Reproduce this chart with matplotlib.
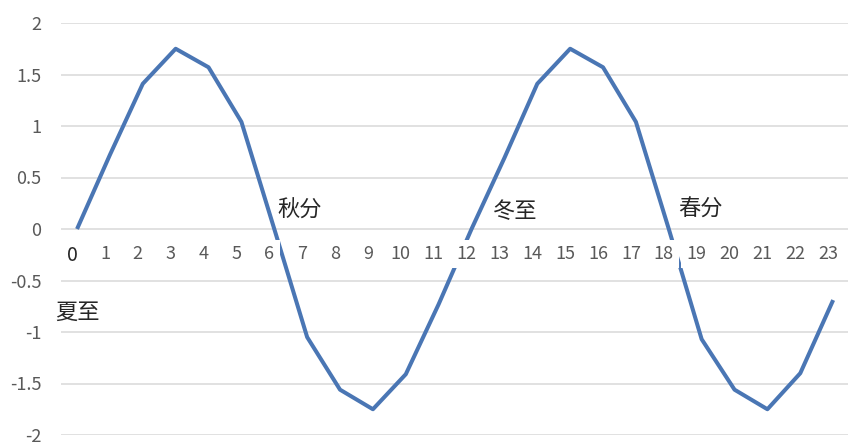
import matplotlib
matplotlib.use("Agg")
import matplotlib.pyplot as plt
import matplotlib.transforms as mtransforms

plt.rcParams['font.family'] = ['Noto Sans CJK SC', 'DejaVu Sans']
plt.rcParams['axes.unicode_minus'] = False

# 24 categories (0..23) and the plotted series
categories = list(range(24))
tick_labels = [str(c) for c in categories]
values = [0, 0.72, 1.41, 1.75, 1.57, 1.04, 0, -1.05, -1.56, -1.75, -1.41, -0.73,
          0, 0.69, 1.41, 1.75, 1.57, 1.04, 0, -1.07, -1.56, -1.75, -1.40, -0.69]

y_ticks = [2, 1.5, 1, 0.5, 0, -0.5, -1, -1.5, -2]
y_tick_labels = ['2', '1.5', '1', '0.5', '0', '-0.5', '-1', '-1.5', '-2']

# solar-term annotations: (text, category position, value)
term_names = ['夏至', '秋分', '冬至', '春分']
term_x = [0.0, 6.78, 13.33, 18.95]
term_y = [-0.81, 0.18, 0.17, 0.19]

W, H = 848, 445
fig = plt.figure(figsize=(W / 100, H / 100), dpi=100)
ax = fig.add_axes([60.6 / W, 10 / H, 789 / W, 412 / H])

ax.plot(categories, values, color='#4a76b4', linewidth=2.9,
        solid_joinstyle='round', solid_capstyle='butt', zorder=2)

ax.set_xlim(-0.5, 23.5)
ax.set_ylim(-2, 2)

for s in ax.spines.values():
    s.set_visible(False)
ax.spines['bottom'].set_position(('data', 0))

# horizontal gridlines live on the y axis (below the line)
ax.set_yticks(y_ticks)
ax.set_yticklabels(y_tick_labels)
ax.yaxis.grid(True, color='#d9d9d9', linewidth=1.1)
ax.xaxis.grid(False)
ax.tick_params(axis='y', length=0, pad=14, labelsize=13, labelcolor='#595959')

# category labels sit on the zero line, boxed in white above the series
ax.set_xticks(categories)
ax.set_xticklabels(tick_labels)
ax.tick_params(axis='x', length=0, pad=11.5, labelsize=13, labelcolor='#595959')
shift = mtransforms.ScaledTranslation(-5 / 100, 0, fig.dpi_scale_trans)
for lab in ax.get_xticklabels():
    lab.set_transform(lab.get_transform() + shift)
    lab.set_bbox(dict(boxstyle='square,pad=0.3', facecolor='white', edgecolor='none'))
first = ax.get_xticklabels()[0]
first.set_color('#262626')
first.set_fontsize(14)

ax.yaxis.set_zorder(1.5)
ax.xaxis.set_zorder(2.5)

for name, tx, ty in zip(term_names, term_x, term_y):
    ax.text(tx, ty, name, ha='center', va='center', fontsize=16,
            color='#262626', zorder=4)

fig.savefig('out.png', dpi=100, facecolor='white')
